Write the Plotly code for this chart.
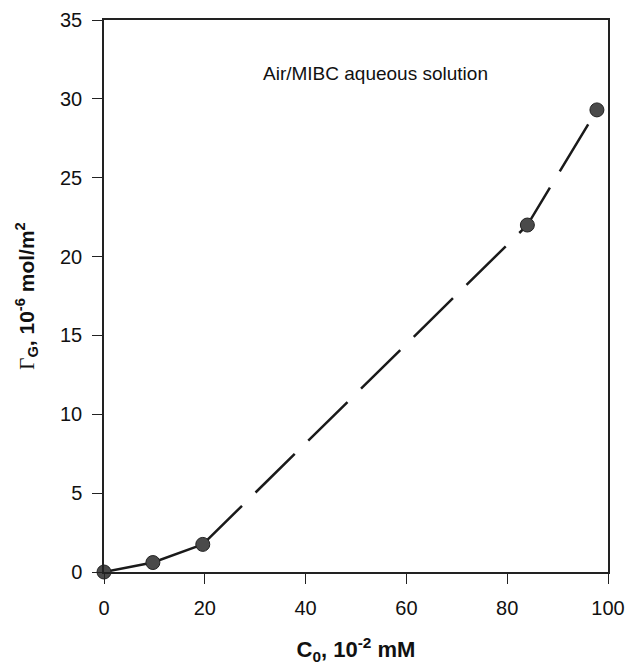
import plotly.graph_objects as go

# Surface excess of MIBC at the air/water interface vs. bulk concentration
conc = [0, 9.7, 19.6, 84.0, 97.8]          # C0, 10^-2 mM
gamma = [0.0, 0.6, 1.75, 22.0, 29.3]       # Gamma_G, 10^-6 mol/m^2

x_ticks = [0, 20, 40, 60, 80, 100]
y_ticks = [0, 5, 10, 15, 20, 25, 30, 35]

SANS = "Liberation Sans, Arial, sans-serif"

fig = go.Figure()

# low-concentration part drawn solid, the rest with long dashes
fig.add_trace(go.Scatter(
    x=conc[:3], y=gamma[:3], mode="lines",
    line=dict(color="#1a1a1a", width=2.5),
    showlegend=False, hoverinfo="skip",
))
fig.add_trace(go.Scatter(
    x=conc[2:], y=gamma[2:], mode="lines",
    line=dict(color="#1a1a1a", width=2.5, dash="55px,19px"),
    showlegend=False, hoverinfo="skip",
))
fig.add_trace(go.Scatter(
    x=conc, y=gamma, mode="markers",
    marker=dict(size=14, color="#4a4a4a", line=dict(color="#222", width=1)),
    showlegend=False, cliponaxis=False,
))

fig.add_annotation(
    x=53.8, y=31.6, xref="x", yref="y", showarrow=False,
    text="Air/MIBC aqueous solution",
    font=dict(family=SANS, size=19, color="#111"),
)

axis_common = dict(
    showline=True, linecolor="#222", linewidth=1.5, mirror=True,
    showgrid=False, zeroline=False, automargin=False,
    ticks="outside", ticklen=10, tickwidth=1.2, tickcolor="#222",
    tickfont=dict(family=SANS, size=20, color="#111"),
)

fig.update_xaxes(
    range=[0, 100], tickvals=x_ticks, ticktext=[str(v) for v in x_ticks],
    ticklabelstandoff=7,
    title=dict(
        text="<b>C<sub>0</sub>, 10<sup>-2</sup> mM</b>",
        font=dict(family=SANS, size=22, color="#111"),
        standoff=24,
    ),
    **axis_common,
)
fig.update_yaxes(
    range=[0, 35], tickvals=y_ticks, ticktext=[str(v) for v in y_ticks],
    ticklabelstandoff=6,
    title=dict(
        text="<span style='font-family:Liberation Serif, Times New Roman, serif;font-weight:normal'>Γ</span>"
             "<b><sub>G</sub>, 10<sup>-6</sup> mol/m<sup>2</sup></b>",
        font=dict(family=SANS, size=21, color="#111"),
        standoff=20,
    ),
    **axis_common,
)

fig.update_layout(
    width=630, height=667,
    margin=dict(l=104, r=22, t=20, b=95),
    plot_bgcolor="white", paper_bgcolor="white",
)

fig.write_html("out.html")
